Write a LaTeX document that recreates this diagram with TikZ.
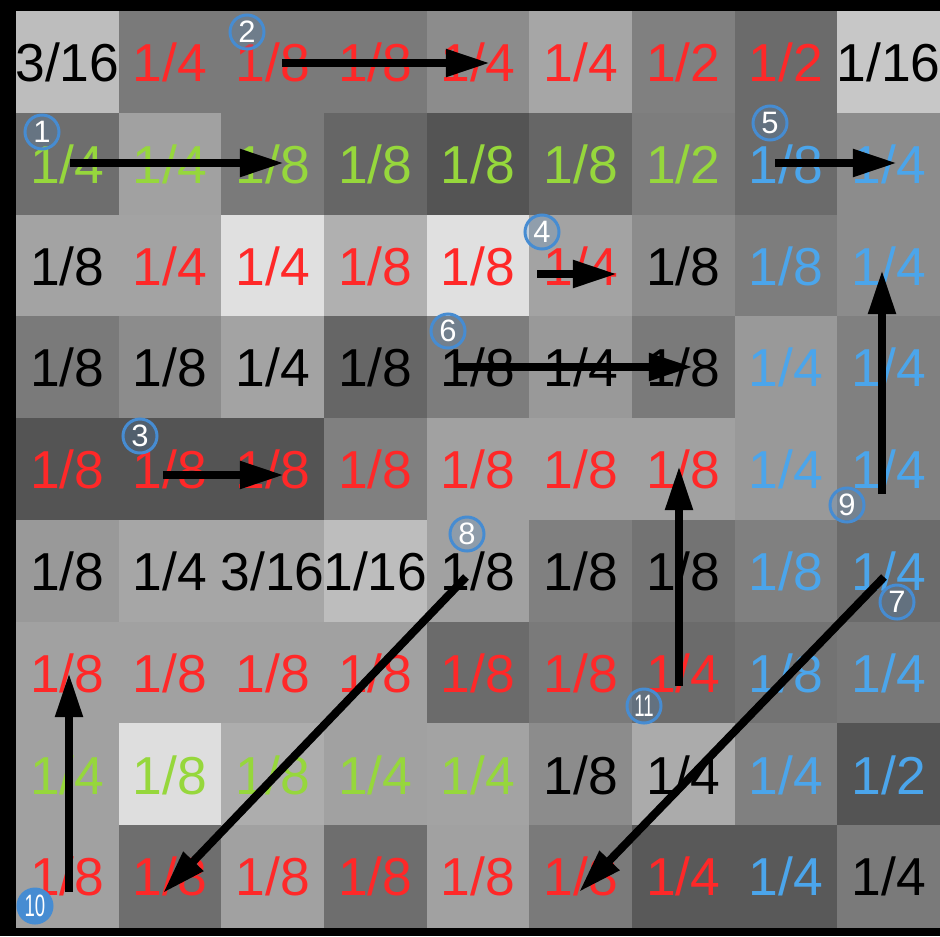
\documentclass[tikz,border=0pt]{standalone}
\usepackage{fontspec}
\setmainfont{Liberation Sans}
\usepackage{graphicx}
\usetikzlibrary{arrows.meta}

\definecolor{fracred}{RGB}{255,40,40}
\definecolor{fracgreen}{RGB}{150,215,60}
\definecolor{fracblue}{RGB}{75,165,235}
\definecolor{badgeblue}{RGB}{70,140,210}

\begin{document}
\begin{tikzpicture}[x=0.025cm,y=-0.025cm,
    frac/.style={inner sep=0pt,font=\fontsize{38}{40}\selectfont},
    badge/.style={circle,draw=badgeblue,line width=0.075cm,fill=badgeblue,fill opacity=0.2,
        text opacity=1,text=white,inner sep=0pt,minimum size=0.85cm,font=\fontsize{22}{22}\selectfont},
    walk/.style={line width=0.2cm,-{Triangle[length=1.1cm,width=0.65cm]}}]
    \useasboundingbox (0,0) rectangle (940,936);

    % Marco negro
    \fill[black] (0,0) rectangle (940,936);

    % Celdas: gris / numerador / denominador / color del texto
    \foreach \cells [count=\row] in {
        {26/3/16/black, 52/1/4/fracred, 52/1/8/fracred, 52/1/8/fracred, 45/1/4/fracred, 35/1/4/fracred, 50/1/2/fracred, 58/1/2/fracred, 22/1/16/black},
        {57/1/4/fracgreen, 37/1/4/fracgreen, 52/1/8/fracgreen, 60/1/8/fracgreen, 67/1/8/fracgreen, 60/1/8/fracgreen, 51/1/2/fracgreen, 58/1/8/fracblue, 45/1/4/fracblue},
        {36/1/8/black, 36/1/4/fracred, 12/1/4/fracred, 31/1/8/fracred, 12/1/8/fracred, 36/1/4/fracred, 45/1/8/black, 51/1/8/fracblue, 45/1/4/fracblue},
        {52/1/8/black, 45/1/8/black, 36/1/4/black, 60/1/8/black, 51/1/8/black, 40/1/4/black, 52/1/8/black, 40/1/4/fracblue, 50/1/4/fracblue},
        {67/1/8/fracred, 67/1/8/fracred, 67/1/8/fracred, 50/1/8/fracred, 37/1/8/fracred, 37/1/8/fracred, 37/1/8/fracred, 40/1/4/fracblue, 50/1/4/fracblue},
        {40/1/8/black, 35/1/4/black, 35/3/16/black, 26/1/16/black, 37/1/8/black, 50/1/8/black, 55/1/8/black, 50/1/8/fracblue, 58/1/4/fracblue},
        {37/1/8/fracred, 37/1/8/fracred, 37/1/8/fracred, 37/1/8/fracred, 58/1/8/fracred, 52/1/8/fracred, 58/1/4/fracred, 55/1/8/fracblue, 53/1/4/fracblue},
        {37/1/4/fracgreen, 13/1/8/fracgreen, 32/1/8/fracgreen, 37/1/4/fracgreen, 36/1/4/fracgreen, 45/1/8/black, 33/1/4/black, 50/1/4/fracblue, 67/1/2/fracblue},
        {37/1/8/fracred, 57/1/8/fracred, 37/1/8/fracred, 57/1/8/fracred, 37/1/8/fracred, 52/1/8/fracred, 65/1/4/fracred, 65/1/4/fracblue, 52/1/4/black}} {
        \foreach \g/\fn/\fd/\tc [count=\col] in \cells {
            \pgfmathsetmacro\cx{16+(\col-1)*102.67}
            \pgfmathsetmacro\cy{11+(\row-1)*101.78}
            \fill[black!\g] (\cx,\cy) rectangle ++(103.2,102.3);
            \node[frac,text=\tc] (c-\row-\col) at (\cx+51.33,\cy+51.5) {\fn/\fd};
        }
    }

    % Extremos de las flechas
    \coordinate (a1s) at (70,163);  \coordinate (a1e) at (284,163);
    \coordinate (a2s) at (282,63);  \coordinate (a2e) at (490,63);
    \coordinate (a3s) at (163,475); \coordinate (a3e) at (284,475);
    \coordinate (a4s) at (537,274); \coordinate (a4e) at (617,274);
    \coordinate (a5s) at (775,163); \coordinate (a5e) at (897,163);
    \coordinate (a6s) at (455,367); \coordinate (a6e) at (693,367);
    \coordinate (a7s) at (884,577); \coordinate (a7e) at (579,892);
    \coordinate (a8s) at (466,577); \coordinate (a8e) at (163,893);
    \coordinate (a9s) at (882,494); \coordinate (a9e) at (882,270);
    \coordinate (a10s) at (69,892); \coordinate (a10e) at (69,673);
    \coordinate (a11s) at (679,686); \coordinate (a11e) at (679,466);

    % Flechas
    \foreach \k in {1,...,11} {
        \draw[walk] (a\k s) -- (a\k e);
    }

    % Números de paso
    \node[badge] (b1) at (42,132) {1};
    \node[badge] (b2) at (247,32) {2};
    \node[badge] (b3) at (140,436) {3};
    \node[badge] (b4) at (542,232) {4};
    \node[badge] (b5) at (770,123) {5};
    \node[badge] (b6) at (448,331) {6};
    \node[badge] (b7) at (897,602) {7};
    \node[badge] (b8) at (467,534) {8};
    \node[badge] (b9) at (847,505) {9};
    \node[badge,fill opacity=1] (b10) at (35,906) {\scalebox{0.6}[1]{10}};
    \node[badge] (b11) at (644,706) {\scalebox{0.6}[1]{11}};
\end{tikzpicture}
\end{document}
